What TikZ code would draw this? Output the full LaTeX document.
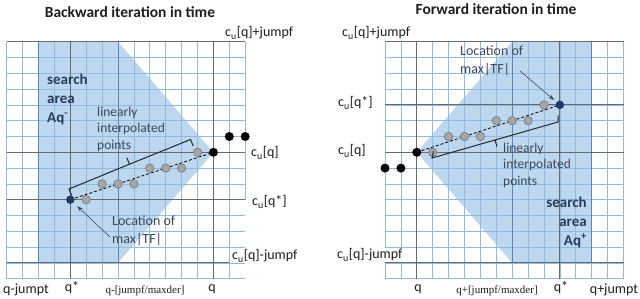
\documentclass[tikz,border=0pt]{standalone}
\usepackage{fontspec}
\setmainfont{Carlito}
\newfontfamily\timesf{Liberation Serif}
\usetikzlibrary{arrows.meta,calc}
\definecolor{shadeblue}{RGB}{189,215,238}
\definecolor{gridblue}{RGB}{142,186,228}
\definecolor{axisgray}{RGB}{105,105,105}
\definecolor{rectblue}{RGB}{84,134,190}
\definecolor{darktext}{RGB}{30,30,30}
\definecolor{areatext}{RGB}{38,60,90}
\definecolor{slatetext}{RGB}{60,72,90}
\definecolor{dotgray}{RGB}{166,166,166}
\definecolor{dotedge}{RGB}{120,120,120}
\definecolor{navydot}{RGB}{31,56,100}
\newcommand{\cusub}{c\textsubscript{u}}
\tikzset{
 lbl/.style={inner sep=0pt, text=darktext, font=\fontsize{14}{16}\selectfont},
 ttl/.style={inner sep=0pt, text=darktext, font=\fontsize{15.5}{18}\selectfont\bfseries},
 arealbl/.style={inner sep=0pt, text=areatext, font=\fontsize{15}{19}\selectfont\bfseries},
 interlbl/.style={inner sep=0pt, text=slatetext, font=\fontsize{13.5}{16.5}\selectfont},
 loclbl/.style={inner sep=0pt, text=slatetext, font=\fontsize{14}{17.5}\selectfont},
 serlbl/.style={inner sep=0pt, text=darktext, font=\fontsize{11}{13}\selectfont\timesf},
 gridl/.style={draw=gridblue, line width=0.7pt},
 axisl/.style={draw=axisgray, line width=0.9pt},
 rectl/.style={draw=rectblue, line width=0.9pt},
 dotblack/.style={circle, fill=black, inner sep=0pt, minimum size=9pt},
 dotgrey/.style={circle, fill=dotgray, draw=dotedge, line width=0.6pt, inner sep=0pt, minimum size=8.5pt},
 dotnavy/.style={circle, fill=navydot, inner sep=0pt, minimum size=8.5pt},
 dashl/.style={draw=black, dash pattern=on 3pt off 2pt, line width=0.8pt},
 bracel/.style={draw=black!85, line width=1pt},
 pointer/.style={draw=slatetext, line width=0.6pt, -{Stealth[length=6pt,width=4pt]}},
}
\begin{document}
\begin{tikzpicture}[x=1pt,y=-1pt]
\useasboundingbox (0,0) rectangle (640,299);
\fill[white] (0,0) rectangle (640,299);

% ---------------- left panel ----------------
\begin{scope}[shift={(6.7,41.7)}, x=15.9pt, y=-15.8pt]
  \fill[shadeblue] (2,0) -- (7,0) -- (13,7) -- (7,14) -- (2,14) -- cycle;
  \foreach \i in {0,...,14} {
    \draw[gridl] (\i,0) -- (\i,15);
  }
  \draw[gridl] (15,0) -- (15,10);
  \foreach \i in {0,...,15} {
    \draw[gridl] (0,\i) -- (15,\i);
  }
  \draw[rectl] (2,0) rectangle (7,14);
  \draw[axisl] (0,0) -- (15,0);
  \draw[axisl] (0,14) -- (14,14);
  \draw[axisl] (0,7) -- (15,7);
  \draw[axisl] (0,10) -- (15,10);
  \draw[axisl] (13,0) -- (13,15);
  \draw[axisl] (4,0) -- (4,15);
  \coordinate (Lqs) at (4,10);
  \coordinate (Lq) at (13,7);
  \draw[dashl] (Lqs) -- (Lq);
  \node[dotblack] (Lb1) at (14,6) {};
  \node[dotblack] (Lb2) at (15,6) {};
  \node[dotblack] (Lqdot) at (Lq) {};
  \node[dotgrey] (Lg1) at (12,7) {};
  \node[dotgrey] (Lg2) at (11,8) {};
  \node[dotgrey] (Lg3) at (10,8) {};
  \node[dotgrey] (Lg4) at (9,8) {};
  \node[dotgrey] (Lg5) at (8,9) {};
  \node[dotgrey] (Lg6) at (7,9) {};
  \node[dotgrey] (Lg7) at (6,9) {};
  \node[dotgrey] (Lg8) at (5,10) {};
  \node[dotnavy] (Lqsdot) at (Lqs) {};
\end{scope}

% bracket left
\draw[bracel] (71.7,195.5) -- (69,189) -- (129.5,164.2) -- (126.8,157.7) -- (129.5,164.2) -- (190.5,139.5) -- (193.2,146);

\node[ttl] (Ltitle) at (130,12) {Backward iteration in time};
\node[lbl, anchor=west] (Ltop) at (225,33) {\cusub[q]+jumpf};
\node[lbl, anchor=west] (Lcq) at (251,153) {\cusub[q]};
\node[lbl, anchor=west] (Lcqs) at (252,202) {\cusub[q*]};
\node[lbl, anchor=west, fill=white, inner sep=1pt] (Lbot) at (231,256) {\cusub[q]-jumpf};
\node[arealbl, anchor=west, align=left] (Larea) at (47,99) {search\\area\\Aq\textsuperscript{-}};
\node[interlbl, anchor=west, align=left] (Linter) at (97,129) {linearly\\interpolated\\points};
\node[loclbl, anchor=west, align=left] (Lloc) at (112,231) {Location of\\max|TF|};
\coordinate (Larr) at (110,237);
\draw[pointer, shorten >=5pt] (Larr) -- (Lqsdot);
\node[lbl, anchor=base] (Lx1) at (26,293) {q-jumpt};
\node[lbl, anchor=base] (Lx2) at (72,291) {q*};
\node[serlbl, anchor=base] (Lx3) at (145,293) {q-[jumpf/maxder]};
\node[lbl, anchor=base] (Lx4) at (212,291) {q};

% ---------------- right panel ----------------
\begin{scope}[shift={(385,41.7)}, x=15.9pt, y=-15.8pt]
  \fill[shadeblue] (8,0) -- (13,0) -- (13,14) -- (8,14) -- (2,7) -- cycle;
  \foreach \i in {0,...,15} {
    \draw[gridl] (\i,0) -- (\i,15);
    \draw[gridl] (0,\i) -- (15,\i);
  }
  \draw[rectl] (8,0) rectangle (13,14);
  \draw[axisl] (0,0) -- (15,0);
  \draw[axisl] (0,14) -- (15,14);
  \draw[axisl] (0,7) -- (15,7);
  \draw[axisl] (0,4) -- (15,4);
  \draw[axisl] (2,0) -- (2,15);
  \draw[axisl] (11,0) -- (11,15);
  \coordinate (Rqs) at (11,4);
  \coordinate (Rq) at (2,7);
  \draw[dashl] (Rq) -- (Rqs);
  \node[dotblack] (Rb1) at (0,8) {};
  \node[dotblack] (Rb2) at (1,8) {};
  \node[dotblack] (Rqdot) at (Rq) {};
  \node[dotgrey] (Rg1) at (3,7) {};
  \node[dotgrey] (Rg2) at (4,6) {};
  \node[dotgrey] (Rg3) at (5,6) {};
  \node[dotgrey] (Rg4) at (6,6) {};
  \node[dotgrey] (Rg5) at (7,5) {};
  \node[dotgrey] (Rg6) at (8,5) {};
  \node[dotgrey] (Rg7) at (9,5) {};
  \node[dotgrey] (Rg8) at (10,4) {};
  \node[dotnavy] (Rqsdot) at (Rqs) {};
\end{scope}

% bracket right
\draw[bracel] (433.5,151.3) -- (432,158) -- (495,140) -- (497,146.7) -- (495,140) -- (558,122) -- (558,115.5);

\node[ttl] (Rtitle) at (496,9) {Forward iteration in time};
\node[lbl, anchor=west] (Rtop) at (342,33) {\cusub[q]+jumpf};
\node[lbl, anchor=west] (Rcqs) at (338,103) {\cusub[q*]};
\node[lbl, anchor=west] (Rcq) at (338,151) {\cusub[q]};
\node[lbl, anchor=west, fill=white, inner sep=1pt] (Rbot) at (336,255) {\cusub[q]-jumpf};
\node[loclbl, anchor=west, align=left] (Rloc) at (460,61) {Location of\\max|TF|};
\coordinate (Rarr) at (520,71);
\draw[pointer, shorten >=3pt] (Rarr) -- (Rqsdot);
\node[interlbl, anchor=west, align=left] (Rinter) at (503,165) {linearly\\interpolated\\points};
\node[arealbl, anchor=east, align=right] (Rarea) at (587,222) {search\\area\\Aq\textsuperscript{+}};
\node[lbl, anchor=base] (Rx1) at (418,291) {q};
\node[serlbl, anchor=base] (Rx2) at (497,293) {q+[jumpf/maxder]};
\node[lbl, anchor=base] (Rx3) at (561,291) {q*};
\node[lbl, anchor=base] (Rx4) at (614,293) {q+jumpt};
\end{tikzpicture}
\end{document}
